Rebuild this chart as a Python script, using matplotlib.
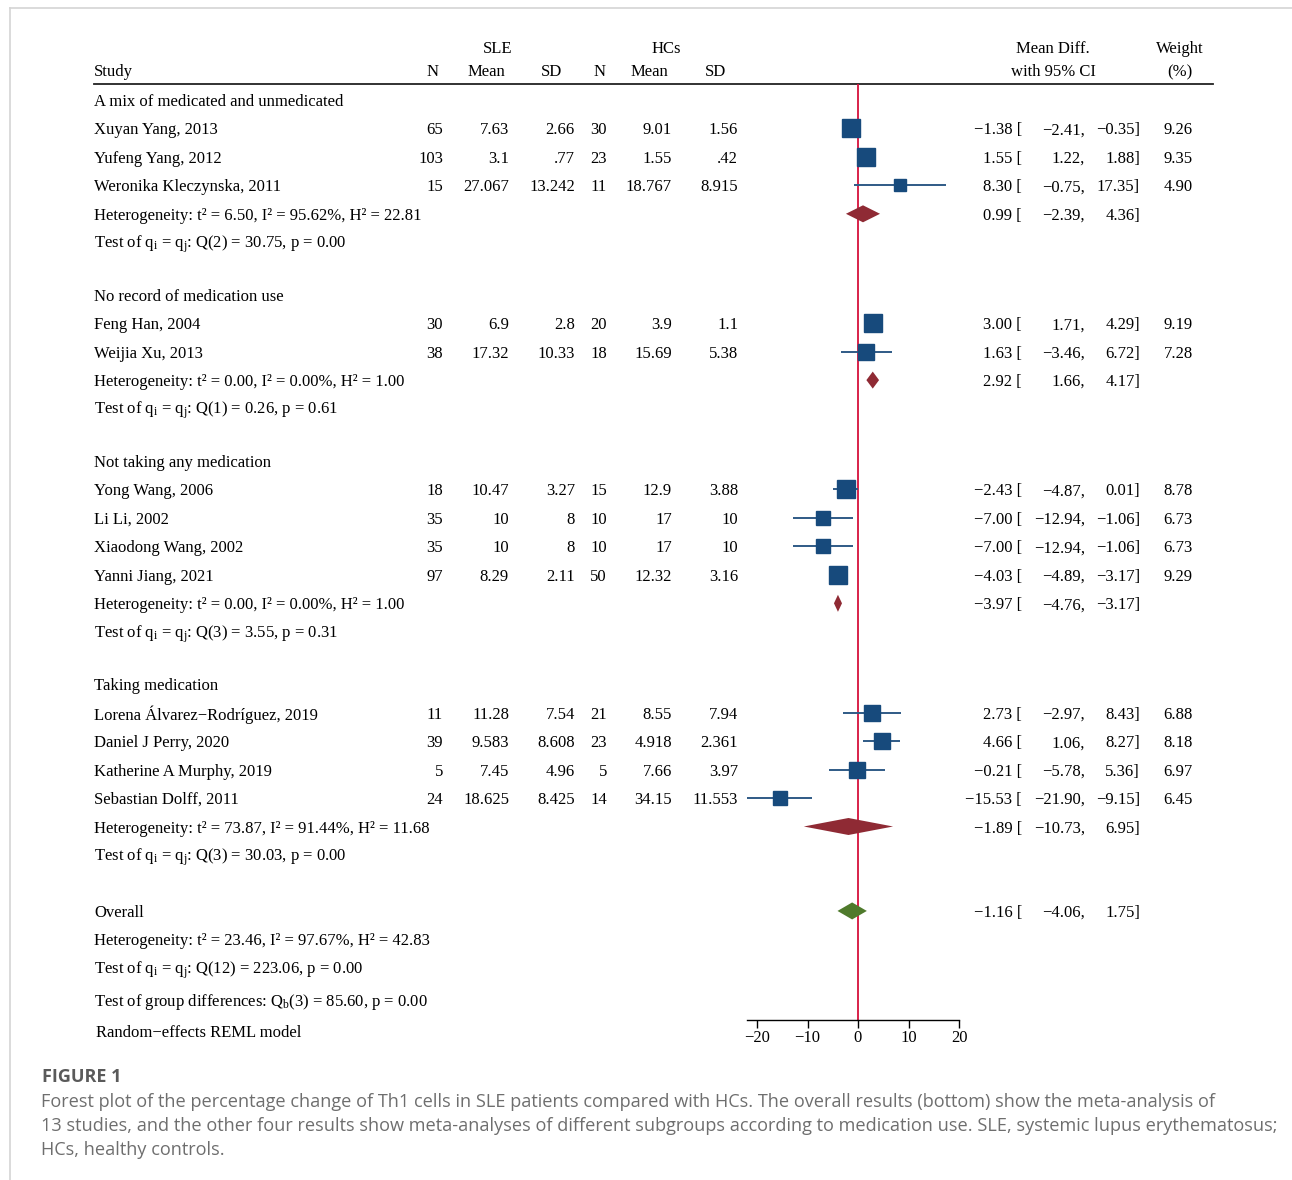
import numpy as np
import matplotlib
matplotlib.use("Agg")
import matplotlib.pyplot as plt

plt.rcParams['font.family'] = ['Liberation Serif', 'DejaVu Serif']
plt.rcParams['mathtext.fontset'] = 'custom'
plt.rcParams['mathtext.rm'] = 'Liberation Serif'
plt.rcParams['mathtext.it'] = 'Liberation Serif:italic'

# study level data
studies = ["Xuyan Yang, 2013", "Yufeng Yang, 2012", "Weronika Kleczynska, 2011",
           "Feng Han, 2004", "Weijia Xu, 2013",
           "Yong Wang, 2006", "Li Li, 2002", "Xiaodong Wang, 2002", "Yanni Jiang, 2021",
           "Lorena Álvarez\u2212Rodríguez, 2019", "Daniel J Perry, 2020",
           "Katherine A Murphy, 2019", "Sebastian Dolff, 2011"]
sle_n = [65, 103, 15, 30, 38, 18, 35, 35, 97, 11, 39, 5, 24]
sle_mean = ["7.63", "3.1", "27.067", "6.9", "17.32", "10.47", "10", "10", "8.29",
            "11.28", "9.583", "7.45", "18.625"]
sle_sd = ["2.66", ".77", "13.242", "2.8", "10.33", "3.27", "8", "8", "2.11",
          "7.54", "8.608", "4.96", "8.425"]
hc_n = [30, 23, 11, 20, 18, 15, 10, 10, 50, 21, 23, 5, 14]
hc_mean = ["9.01", "1.55", "18.767", "3.9", "15.69", "12.9", "17", "17", "12.32",
           "8.55", "4.918", "7.66", "34.15"]
hc_sd = ["1.56", ".42", "8.915", "1.1", "5.38", "3.88", "10", "10", "3.16",
         "7.94", "2.361", "3.97", "11.553"]
md = [-1.38, 1.55, 8.30, 3.00, 1.63, -2.43, -7.00, -7.00, -4.03, 2.73, 4.66, -0.21, -15.53]
md_lo = [-2.41, 1.22, -0.75, 1.71, -3.46, -4.87, -12.94, -12.94, -4.89, -2.97, 1.06, -5.78, -21.90]
md_hi = [-0.35, 1.88, 17.35, 4.29, 6.72, 0.01, -1.06, -1.06, -3.17, 8.43, 8.27, 5.36, -9.15]
weight = [9.26, 9.35, 4.90, 9.19, 7.28, 8.78, 6.73, 6.73, 9.29, 6.88, 8.18, 6.97, 6.45]

# subgroup summaries
groups = ["A mix of medicated and unmedicated", "No record of medication use",
          "Not taking any medication", "Taking medication"]
group_size = [3, 2, 4, 4]
grp_md = [0.99, 2.92, -3.97, -1.89]
grp_lo = [-2.39, 1.66, -4.76, -10.73]
grp_hi = [4.36, 4.17, -3.17, 6.95]
grp_tau2 = ["6.50", "0.00", "0.00", "73.87"]
grp_i2 = ["95.62%", "0.00%", "0.00%", "91.44%"]
grp_h2 = ["22.81", "1.00", "1.00", "11.68"]
grp_df = [2, 1, 3, 3]
grp_q = ["30.75", "0.26", "3.55", "30.03"]
grp_p = ["0.00", "0.61", "0.31", "0.00"]

# overall
all_md, all_lo, all_hi = -1.16, -4.06, 1.75
all_tau2, all_i2, all_h2 = "23.46", "97.67%", "42.83"
all_df, all_q, all_p = 12, "223.06", "0.00"
qb_df, qb, qb_p = 3, "85.60", "0.00"

xticks = [-20, -10, 0, 10, 20]

BLUE = "#174a7c"
CI_BLUE = "#2f5a86"
RED = "#8f2a34"
GREEN = "#4f7a2c"
NULL = "#d6103c"
FS = 12
DY = 2  # nudge rows so the baseline sits like Stata's


def fmt(v):
    return "{:.2f}".format(v).replace("-", "\u2212")


def het_text(t2, i2, h2):
    return "Heterogeneity: t\u00b2 = %s, I\u00b2 = %s, H\u00b2 = %s" % (t2, i2, h2)


def q_text(df, q, p):
    return r"Test of q$_\mathrm{i}$ = q$_\mathrm{j}$: Q(%d) = %s, p = %s" % (df, q, p)


W, H = 1292, 1180
fig = plt.figure(figsize=(W / 100, H / 100), dpi=100, facecolor='white')

# text layer in pixel units
tab = fig.add_axes([0, 0, 1, 1])
tab.set_xlim(0, W)
tab.set_ylim(H, 0)
tab.axis('off')


def put(x, y, s, ha='left', **kw):
    tab.text(x, y + DY, s, fontsize=FS, va='center', ha=ha, **kw)


# plot panel: x in mean difference units, y in the same pixel rows
px_per_unit = 5.05
x0_px = 858
xmin, xmax = min(md_lo), 20
top_px, axis_px = 84, 1020
left = (x0_px + xmin * px_per_unit) / W
right = (x0_px + xmax * px_per_unit) / W
ax = fig.add_axes([left, (H - axis_px) / H, right - left, (axis_px - top_px) / H])
ax.set_xlim(xmin, xmax)
ax.set_ylim(axis_px, top_px)
ax.patch.set_alpha(0)
for s in ['top', 'right', 'left']:
    ax.spines[s].set_visible(False)
ax.spines['bottom'].set_bounds(xmin, xmax)
ax.spines['bottom'].set_linewidth(1.0)
ax.set_yticks([])
ax.set_xticks(xticks)
ax.tick_params(axis='x', direction='out', length=6, width=1.0, labelsize=FS, pad=1)
ax.axvline(0, color=NULL, lw=1.3, zorder=1)

# frame around figure block
tab.plot([10, W], [8, 8], color="#d4d4d4", lw=1.2)
tab.plot([10, 10], [8, H], color="#d4d4d4", lw=1.2)

# headers
hy1, hy2 = 47, 70
put(94, hy2, "Study")
put(498, hy1, "SLE", ha='center')
put(666, hy1, "HCs", ha='center')
for label, xc in zip(["N", "Mean", "SD", "N", "Mean", "SD"], [433, 486, 552, 600, 649, 715]):
    put(xc, hy2, label, ha='center')
put(1053, hy1, "Mean Diff.", ha='center')
put(1053, hy2, "with 95% CI", ha='center')
put(1180, hy1, "Weight", ha='center')
put(1180, hy2, "(%)", ha='center')
tab.plot([94, 1213], [83.5, 83.5], color="#222222", lw=1.3)

num_cols = [443, 509, 575, 607, 672, 738]
est_x, lo_x, hi_x, wt_x = 1022, 1085, 1140, 1193


def ci_columns(y, est, lo, hi):
    put(est_x, y, fmt(est) + " [", ha='right')
    put(lo_x, y, fmt(lo) + ",", ha='right')
    put(hi_x, y, fmt(hi) + "]", ha='right')


def diamond(y, est, lo, hi, color, h=8.5):
    ax.fill([lo, est, hi, est], [y, y - h, y, y + h], color=color, lw=0, zorder=3)


step = 28.45
y = 100
k = 0
for g, name in enumerate(groups):
    put(94, y, name)
    for _ in range(group_size[g]):
        y += step
        put(94, y, studies[k])
        vals = [str(sle_n[k]), sle_mean[k], sle_sd[k], str(hc_n[k]), hc_mean[k], hc_sd[k]]
        for v, xr in zip(vals, num_cols):
            put(xr, y, v, ha='right')
        ci_columns(y, md[k], md_lo[k], md_hi[k])
        put(wt_x, y, "{:.2f}".format(weight[k]), ha='right')
        ax.hlines(y, md_lo[k], md_hi[k], color=CI_BLUE, lw=1.4, zorder=2)
        side_px = 17.5 * np.sqrt(weight[k] / 9.26)
        ax.plot(md[k], y, marker='s', ms=side_px * 0.72, color=BLUE, mec=BLUE, zorder=4)
        k += 1
    y += step
    put(94, y, het_text(grp_tau2[g], grp_i2[g], grp_h2[g]))
    ci_columns(y, grp_md[g], grp_lo[g], grp_hi[g])
    diamond(y, grp_md[g], grp_lo[g], grp_hi[g], RED)
    y += step
    put(94, y, q_text(grp_df[g], grp_q[g], grp_p[g]))
    if g < len(groups) - 1:
        y += 52.5

y += 56
put(94, y, "Overall")
ci_columns(y, all_md, all_lo, all_hi)
diamond(y, all_md, all_lo, all_hi, GREEN)
y += step
put(94, y, het_text(all_tau2, all_i2, all_h2))
y += step
put(94, y, q_text(all_df, all_q, all_p))
y += 32
put(94, y, r"Test of group differences: Q$_\mathrm{b}$(%d) = %s, p = %s" % (qb_df, qb, qb_p))
y += 31
put(96, y, "Random\u2212effects REML model")

# caption
cap_font = ['Open Sans', 'DejaVu Sans']
tab.text(42, 1077, "FIGURE 1", fontsize=13, fontweight='bold', color="#5a5a5a",
         va='center', family=cap_font)
caption = [
    "Forest plot of the percentage change of Th1 cells in SLE patients compared with HCs. "
    "The overall results (bottom) show the meta-analysis of",
    "13 studies, and the other four results show meta-analyses of different subgroups "
    "according to medication use. SLE, systemic lupus erythematosus;",
    "HCs, healthy controls.",
]
for i, line in enumerate(caption):
    tab.text(41, 1102 + 24 * i, line, fontsize=13.05, color="#6e6e6e", va='center',
             family=cap_font)

fig.savefig("out.png", dpi=100, facecolor='white')
